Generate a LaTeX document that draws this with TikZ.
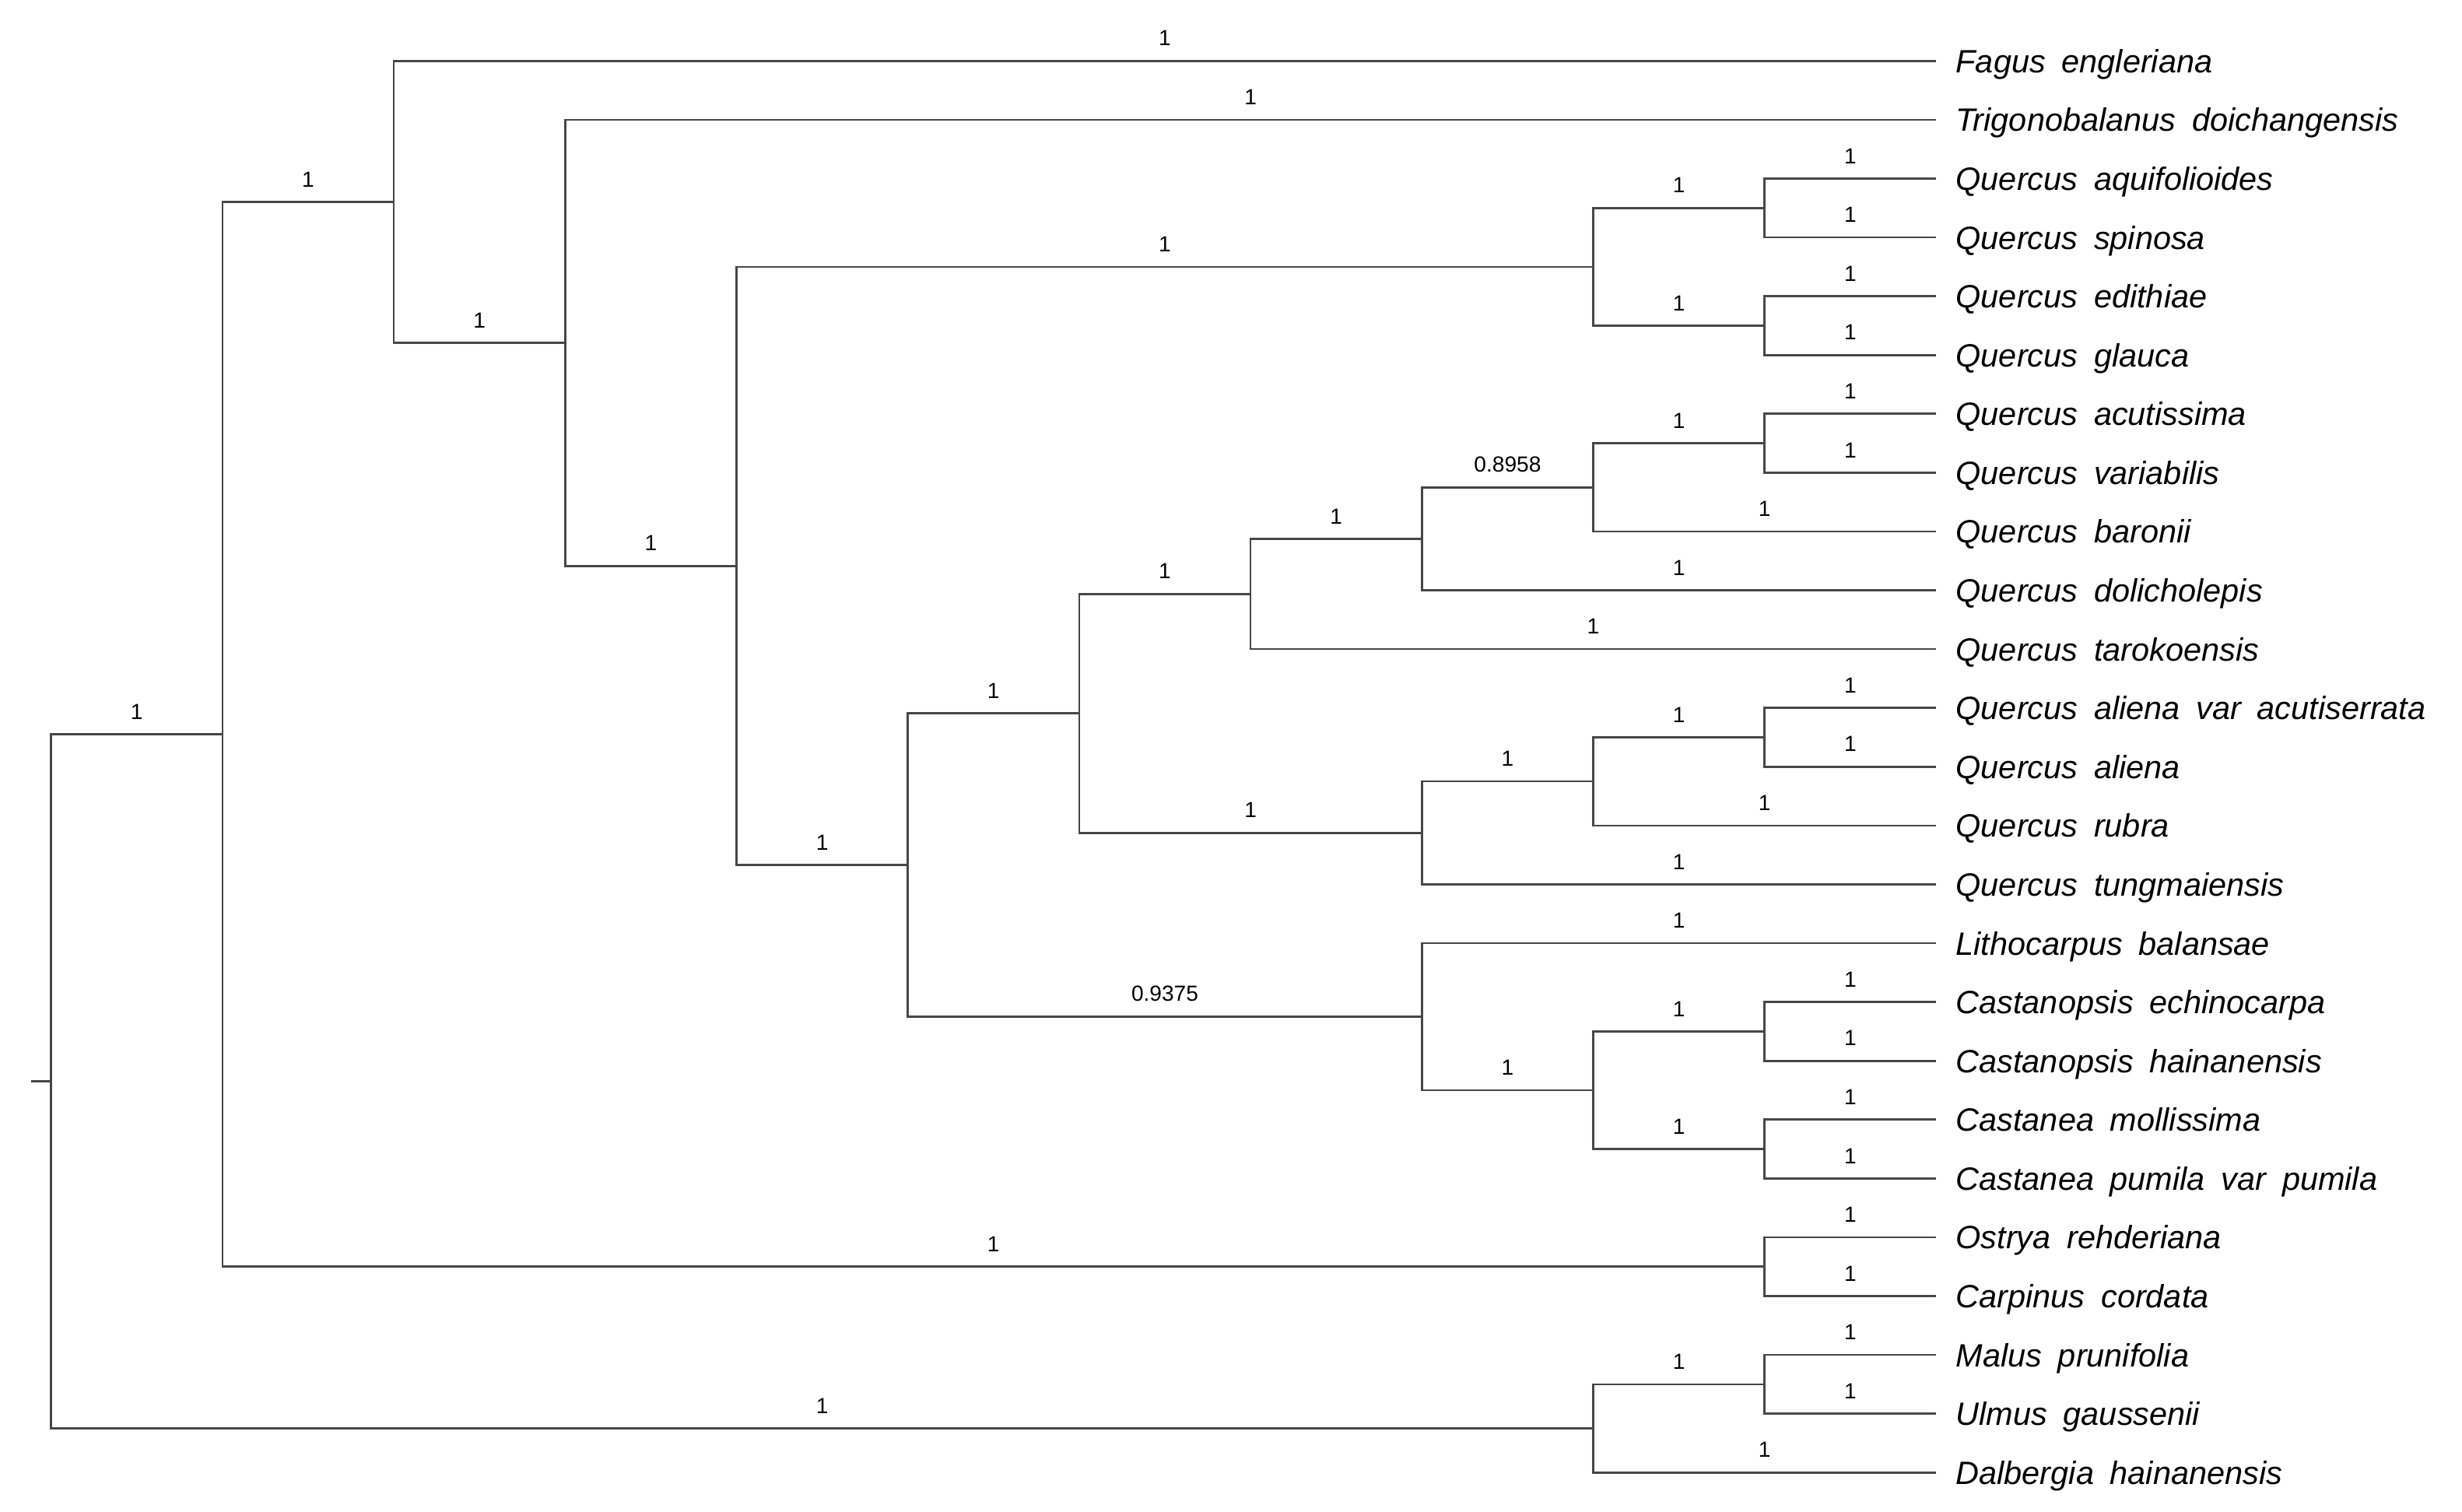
\documentclass[tikz,border=0pt]{standalone}
\usepackage{fontspec}
\setmainfont{Liberation Sans}

\begin{document}
\begin{tikzpicture}[x=2.202cm, y=-0.7558cm, shift={(0.657cm,-0.783cm)},
  branch/.style={draw=black!72, line width=0.75pt},
  supp/.style={pos=0.75, above=0.18cm, inner sep=0, font={\fontsize{8}{9}\selectfont}},
  taxon/.style={anchor=base west, xshift=0.25cm, yshift=-0.15cm, inner sep=0,
    font={\fontsize{11.8}{14}\selectfont\itshape\spaceskip=0.5em\relax}}]
\useasboundingbox (-0.657cm,0.783cm) rectangle (30.983cm,-18.637cm);

% tips
\foreach \taxa [count=\i from 0] in {Fagus engleriana, Trigonobalanus doichangensis,
  Quercus aquifolioides, Quercus spinosa, Quercus edithiae, Quercus glauca,
  Quercus acutissima, Quercus variabilis, Quercus baronii, Quercus dolicholepis,
  Quercus tarokoensis, Quercus aliena var acutiserrata, Quercus aliena, Quercus rubra,
  Quercus tungmaiensis, Lithocarpus balansae, Castanopsis echinocarpa,
  Castanopsis hainanensis, Castanea mollissima, Castanea pumila var pumila,
  Ostrya rehderiana, Carpinus cordata, Malus prunifolia, Ulmus gaussenii,
  Dalbergia hainanensis}{%
  \coordinate (l\i) at (11,\i);
  \node[taxon] (t\i) at (l\i) {\taxa};}

% inner nodes
\foreach \a/\b in {2/3,4/5,6/7,11/12,16/17,18/19,20/21,22/23}
  \coordinate (n\a\b) at (10,{(\a+\b)/2});
\coordinate (nQ1) at (9,3.5);
\coordinate (nI) at (9,7.25);
\coordinate (nL) at (9,12.25);
\coordinate (nO) at (9,17.5);
\coordinate (nQ) at (9,23.25);
\coordinate (nH) at (8,8.125);
\coordinate (nK) at (8,13.125);
\coordinate (nN) at (8,16.25);
\coordinate (nG) at (7,9.0625);
\coordinate (nF) at (6,11.0938);
\coordinate (nE) at (5,13.6719);
\coordinate (nD) at (4,8.5859);
\coordinate (nC) at (3,4.7930);
\coordinate (nB) at (2,2.3965);
\coordinate (nA) at (1,11.4482);
\coordinate (root) at (0,17.3491);
\coordinate (base) at (-0.117,17.3491);

\draw[branch] (base) -- (root);
\foreach \p/\c/\s in {root/nA/1, root/nQ/1, nA/nB/1, nA/n2021/1, nB/l0/1, nB/nC/1,
  nC/l1/1, nC/nD/1, nD/nQ1/1, nD/nE/1, nQ1/n23/1, nQ1/n45/1, n23/l2/1, n23/l3/1,
  n45/l4/1, n45/l5/1, nE/nF/1, nE/nN/0.9375, nF/nG/1, nF/nK/1, nG/nH/1, nG/l10/1,
  nH/nI/0.8958, nH/l9/1, nI/n67/1, nI/l8/1, n67/l6/1, n67/l7/1, nK/nL/1, nK/l14/1,
  nL/n1112/1, nL/l13/1, n1112/l11/1, n1112/l12/1, nN/l15/1, nN/nO/1, nO/n1617/1,
  nO/n1819/1, n1617/l16/1, n1617/l17/1, n1819/l18/1, n1819/l19/1, n2021/l20/1,
  n2021/l21/1, nQ/n2223/1, nQ/l24/1, n2223/l22/1, n2223/l23/1}
  \draw[branch] (\p) |- (\c) node[supp] {\s};
\end{tikzpicture}
\end{document}
